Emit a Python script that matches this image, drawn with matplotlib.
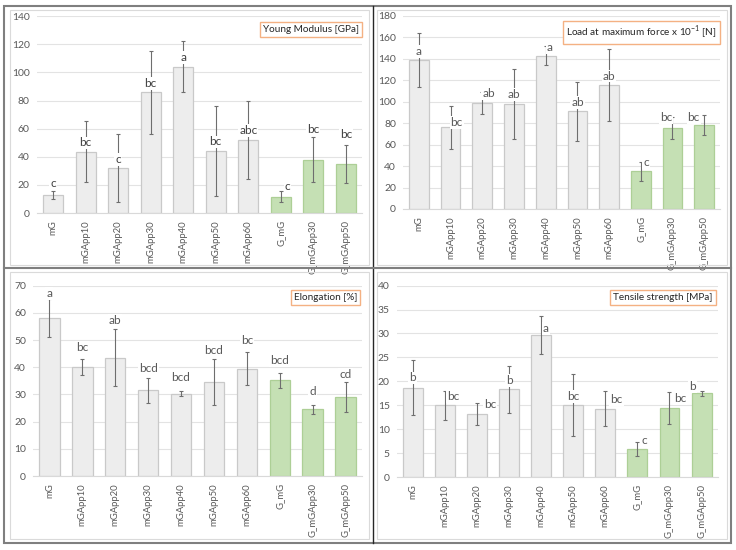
import numpy as np
import matplotlib.pyplot as plt
from matplotlib.patches import Rectangle
from matplotlib.lines import Line2D

plt.rcParams['font.family'] = ['Lato', 'DejaVu Sans']

samples = ['mG', 'mGApp10', 'mGApp20', 'mGApp30', 'mGApp40', 'mGApp50',
           'mGApp60', 'G_mG', 'G_mGApp30', 'G_mGApp50']

# Young modulus [GPa]
young = [13, 43.5, 32, 86, 104, 44, 52, 11.5, 38, 35]
young_err = [3, 21.7, 24, 29.5, 18, 32, 28, 4, 16, 13.5]
young_let = ['c', 'bc', 'c', 'bc', 'a', 'bc', 'abc', 'c', 'bc', 'bc']

# Load at maximum force x 10^-1 [N]
load = [139, 76, 99, 98, 143, 91, 115.5, 35, 75.5, 78.5]
load_err = [25.5, 20, 10, 33, 9, 27.5, 33.5, 9, 10, 9.5]
load_let = ['a', 'bc', 'ab', 'ab', 'a', 'ab', 'ab', 'c', 'bc', 'bc']

# Elongation [%]
elong = [58, 40, 43.5, 31.5, 30.3, 34.7, 39.5, 35.2, 24.5, 29]
elong_err = [7, 3, 10.5, 4.5, 0.8, 8.5, 6, 2.7, 1.7, 5.5]
elong_let = ['a', 'bc', 'ab', 'bcd', 'bcd', 'bcd', 'bc', 'bcd', 'd', 'cd']

# Tensile strength [MPa]
tensile = [18.7, 15, 13.2, 18.3, 29.7, 15, 14.3, 5.8, 14.4, 17.5]
tensile_err = [5.7, 3, 2.3, 5, 4, 6.5, 3.7, 1.5, 3.3, 0.5]
tensile_let = ['b', 'bc', 'bc', 'b', 'a', 'bc', 'bc', 'c', 'bc', 'b']

# where the letters sit (data y, x shift in bar units), as placed in the original
young_lab_y = [21.3, 49.8, 37.9, 92.4, 110.7, 50.5, 58.5, 19, 59.7, 55.7]
young_lab_dx = [0, 0, 0, 0, 0, 0, 0, 0.21, 0, 0]
load_lab_y = [146.7, 80.8, 107.3, 107, 150.5, 99.5, 124, 43.5, 85.5, 85.5]
load_lab_dx = [0, 0.19, 0.2, 0, 0.12, 0, 0, 0.16, -0.2, -0.33]
elong_lab_y = [67, 47.2, 57.3, 39.5, 36.2, 46, 49.7, 42.6, 31, 37.2]
elong_lab_dx = [0] * 10
tensile_lab_y = [20.7, 16.8, 15.2, 20.2, 31, 16.8, 16.1, 7.65, 16.4, 18.9]
tensile_lab_dx = [0, 0.25, 0.4, 0, 0.15, 0, 0.35, 0.22, 0.33, -0.28]

GRAY = '#EDEDED'
GRAY_E = '#C9C9C9'
GREEN = '#C5E0B4'
GREEN_E = '#ADCF96'
TXT = '#595959'

fig = plt.figure(figsize=(7.36, 5.5), dpi=100)


def panel(rect, vals, errs, lets, lab_y, lab_dx, ymax, step, title, box_xy, let_color):
    ax = fig.add_axes(rect)
    x = np.arange(len(samples))
    fc = [GRAY] * 7 + [GREEN] * 3
    ec = [GRAY_E] * 7 + [GREEN_E] * 3
    ax.bar(x, vals, width=0.62, color=fc, edgecolor=ec, linewidth=0.9, zorder=2)
    ax.errorbar(x, vals, yerr=errs, fmt='none', ecolor='#6E6E6E', elinewidth=0.8,
                capsize=1.4, capthick=0.8, zorder=3)
    for i, t in enumerate(lets):
        ax.text(x[i] + lab_dx[i], lab_y[i], t, ha='center', va='center', fontsize=8.5,
                color=let_color, zorder=4,
                bbox=dict(boxstyle='square,pad=0.08', fc='white', ec='none'))
    ax.set_xlim(-0.5, len(samples) - 0.5)
    ax.set_ylim(0, ymax)
    ax.set_yticks(np.arange(0, ymax + 1, step))
    ax.yaxis.grid(True, color='#E3E3E3', linewidth=0.8, zorder=0)
    ax.set_axisbelow(True)
    for s in ['top', 'right', 'left']:
        ax.spines[s].set_visible(False)
    ax.spines['bottom'].set_color('#D9D9D9')
    ax.set_xticks(x)
    ax.set_xticklabels(samples, rotation=90, fontsize=6.8, color=TXT)
    ax.tick_params(axis='both', length=0, colors=TXT)
    ax.tick_params(axis='y', labelsize=7.5, pad=5)
    ax.tick_params(axis='x', pad=5)
    ax.text(box_xy[0], box_xy[1], title, transform=ax.transAxes, ha='right', va='top',
            fontsize=7.2, color='#262626',
            bbox=dict(boxstyle='square,pad=0.3', fc='white', ec='#F4B183', lw=1.0))
    return ax


panel([0.050, 0.6127, 0.442, 0.358], young, young_err, young_let, young_lab_y, young_lab_dx,
      140, 20, 'Young Modulus [GPa]', (0.99, 0.955), '#404040')
panel([0.5476, 0.620, 0.4307, 0.351], load, load_err, load_let, load_lab_y, load_lab_dx,
      180, 20, 'Load at maximum force x 10$^{\\mathregular{-1}}$ [N]', (0.99, 0.96), TXT)
panel([0.0448, 0.1345, 0.447, 0.346], elong, elong_err, elong_let, elong_lab_y, elong_lab_dx,
      70, 10, 'Elongation [%]', (0.985, 0.96), TXT)
panel([0.539, 0.1327, 0.436, 0.348], tensile, tensile_err, tensile_let, tensile_lab_y,
      tensile_lab_dx, 40, 5, 'Tensile strength [MPa]', (0.985, 0.96), TXT)


# frame lines in pixel coordinates (origin top left)
def fx(px):
    return px / 736


def fy(py):
    return 1 - py / 550


for (x0, y0, x1, y1) in [(10, 10, 369, 265), (377, 10, 727, 265),
                         (10, 272, 369, 539), (377, 272, 727, 539)]:
    fig.add_artist(Rectangle((fx(x0), fy(y1)), fx(x1) - fx(x0), fy(y0) - fy(y1),
                             fill=False, ec='#DADADA', lw=0.8))
fig.add_artist(Rectangle((fx(4), fy(543)), fx(731) - fx(4), fy(6) - fy(543),
                         fill=False, ec='#7F7F7F', lw=1.5))
fig.add_artist(Line2D([fx(373), fx(373)], [fy(6), fy(543)], color='#262626', lw=1.0))
fig.add_artist(Line2D([fx(4), fx(731)], [fy(268), fy(268)], color='#7F7F7F', lw=1.5))

fig.savefig('out.png', dpi=100)
